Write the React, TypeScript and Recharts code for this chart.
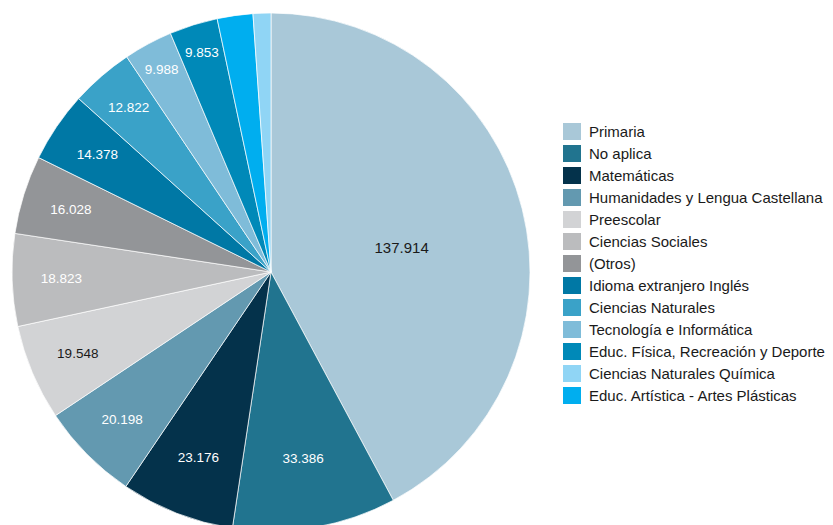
import React from "react";
import { PieChart, Pie, Cell, Legend } from "recharts";

// Slices in drawing order (clockwise from 12 o'clock)
const sliceNames = [
  "Primaria",
  "No aplica",
  "Matemáticas",
  "Humanidades y Lengua Castellana",
  "Preescolar",
  "Ciencias Sociales",
  "(Otros)",
  "Idioma extranjero Inglés",
  "Ciencias Naturales",
  "Tecnología e Informática",
  "Educ. Física, Recreación y Deporte",
  "Educ. Artística - Artes Plásticas",
  "Ciencias Naturales Química",
];
const sliceValues = [137914, 33386, 23176, 20198, 19548, 18823, 16028, 14378, 12822, 9988, 9853, 7270, 3630];

// Legend order
const legendNames = [
  "Primaria",
  "No aplica",
  "Matemáticas",
  "Humanidades y Lengua Castellana",
  "Preescolar",
  "Ciencias Sociales",
  "(Otros)",
  "Idioma extranjero Inglés",
  "Ciencias Naturales",
  "Tecnología e Informática",
  "Educ. Física, Recreación y Deporte",
  "Ciencias Naturales Química",
  "Educ. Artística - Artes Plásticas",
];

const COLORS: Record<string, string> = {
  "Primaria": "#a9c8d8",
  "No aplica": "#21748f",
  "Matemáticas": "#04324b",
  "Humanidades y Lengua Castellana": "#6399b0",
  "Preescolar": "#d2d3d5",
  "Ciencias Sociales": "#bbbcbe",
  "(Otros)": "#939598",
  "Idioma extranjero Inglés": "#0078a5",
  "Ciencias Naturales": "#3aa2c8",
  "Tecnología e Informática": "#7fbcd9",
  "Educ. Física, Recreación y Deporte": "#0089b8",
  "Ciencias Naturales Química": "#90d5f5",
  "Educ. Artística - Artes Plásticas": "#00aeef",
};
const DARK_LABEL = new Set(["Primaria", "Preescolar"]);

const data = sliceNames.map((name, i) => ({ name, value: sliceValues[i] }));

const FONT = "'Liberation Sans', Arial, sans-serif";
const RAD = Math.PI / 180;

const fmt = (v: number) => v.toString().replace(/\B(?=(\d{3})+(?!\d))/g, ".");

function labelRatio(p: number) {
  if (p > 0.3) return 0.52;
  if (p > 0.09) return 0.73;
  if (p > 0.065) return 0.77;
  if (p > 0.04) return 0.81;
  if (p > 0.035) return 0.84;
  return 0.89;
}

const renderLabel = (props: any) => {
  const { cx, cy, midAngle, outerRadius, percent, value, name } = props;
  if (percent < 0.025) return null;
  const r = outerRadius * labelRatio(percent);
  const x = cx + r * Math.cos(-midAngle * RAD);
  const y = cy + r * Math.sin(-midAngle * RAD) + (percent > 0.3 ? 8 : 0);
  return (
    <text
      x={x}
      y={y}
      textAnchor="middle"
      dominantBaseline="central"
      fill={DARK_LABEL.has(name) ? "#1a1a1a" : "#ffffff"}
      style={{ fontFamily: FONT, fontSize: percent > 0.3 ? 15 : 13.5 }}
    >
      {fmt(value)}
    </text>
  );
};

const renderLegend = () => (
  <div style={{ fontFamily: FONT, fontSize: 15, color: "#1a1a1a" }}>
    {legendNames.map((n) => (
      <div key={n} style={{ display: "flex", alignItems: "center", height: 22, whiteSpace: "nowrap" }}>
        <span style={{ display: "inline-block", width: 18, height: 17, background: COLORS[n], marginRight: 8, flexShrink: 0 }} />
        <span>{n}</span>
      </div>
    ))}
  </div>
);

export default function App() {
  return (
    <div style={{ width: 825, height: 517, overflow: "hidden" }}>
      <PieChart width={825} height={517} margin={{ top: 0, right: 0, bottom: 0, left: 0 }}>
        <Pie
          data={data}
          dataKey="value"
          nameKey="name"
          cx={263}
          cy={264}
          outerRadius={259}
          startAngle={90}
          endAngle={-270}
          stroke="#ffffff"
          strokeWidth={0.7}
          label={renderLabel}
          labelLine={false}
          isAnimationActive={false}
        >
          {data.map((d) => (
            <Cell key={d.name} fill={COLORS[d.name]} />
          ))}
        </Pie>
        <Legend
          content={renderLegend}
          wrapperStyle={{ position: "absolute", left: 555, top: 112, width: 270 }}
        />
      </PieChart>
    </div>
  );
}
